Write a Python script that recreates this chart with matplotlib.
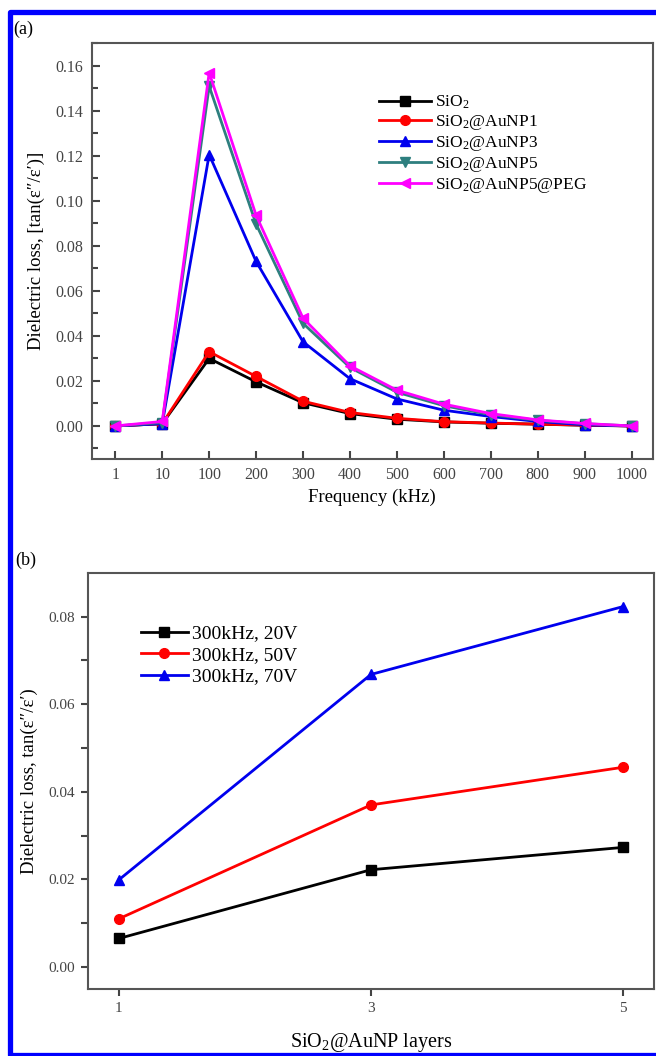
import matplotlib
matplotlib.use("Agg")
import matplotlib.pyplot as plt
from matplotlib.lines import Line2D
from matplotlib.ticker import MultipleLocator

plt.rcParams['font.family'] = ['Liberation Serif', 'DejaVu Serif']
plt.rcParams['mathtext.fontset'] = 'custom'
plt.rcParams['mathtext.rm'] = 'Liberation Serif'
plt.rcParams['mathtext.it'] = 'Liberation Serif:italic'

# panel (a) data
freq_labels = ["1", "10", "100", "200", "300", "400", "500", "600", "700", "800", "900", "1000"]
sio2 = [0, 0.001, 0.030, 0.0196, 0.0103, 0.0055, 0.0030, 0.0018, 0.0012, 0.0008, 0.0003, 0]
aunp1 = [0, 0.001, 0.033, 0.022, 0.011, 0.006, 0.0034, 0.0019, 0.0013, 0.0008, 0.0004, 0]
aunp3 = [0, 0.001, 0.1206, 0.0731, 0.0374, 0.021, 0.012, 0.007, 0.0042, 0.002, 0.0005, 0]
aunp5 = [0, 0.0015, 0.151, 0.0897, 0.0456, 0.026, 0.015, 0.009, 0.005, 0.0025, 0.001, 0]
aunp5_peg = [0, 0.002, 0.157, 0.0936, 0.0479, 0.0267, 0.0159, 0.0097, 0.0055, 0.0027, 0.0011, 0]

# panel (b) data
layers = [1, 3, 5]
v20 = [0.0065, 0.0222, 0.0273]
v50 = [0.011, 0.037, 0.0456]
v70 = [0.0199, 0.0668, 0.0823]

TICK_COLOR = "#444444"
SPINE_COLOR = "#555555"

fig = plt.figure(figsize=(6.56, 10.56), dpi=100)

# blue frame around the figure (open on the right)
frame = Line2D([1.02, 0.016, 0.016, 1.02], [0.9886, 0.9886, 0.0012, 0.0012],
               transform=fig.transFigure, color="#0000ff", linewidth=3.8)
fig.add_artist(frame)

# ---------- panel (a) ----------
ax1 = fig.add_axes([0.140, 0.5653, 0.855, 0.394])
x = list(range(len(freq_labels)))
series_a = [
    (sio2, "SiO$_2$", "black", "s"),
    (aunp1, "SiO$_2$@AuNP1", "#ff0000", "o"),
    (aunp3, "SiO$_2$@AuNP3", "#0000ee", "^"),
    (aunp5, "SiO$_2$@AuNP5", "#2e7f7f", "v"),
    (aunp5_peg, "SiO$_2$@AuNP5@PEG", "#ff00ff", "<"),
]
for vals, name, col, mk in series_a:
    ax1.plot(x, vals, color=col, marker=mk, markersize=7, linewidth=2, label=name)

ax1.set_xlim(-0.5, 11.45)
ax1.set_ylim(-0.0147, 0.1702)
ax1.set_xticks(x)
ax1.set_xticklabels(freq_labels)
ax1.yaxis.set_major_locator(MultipleLocator(0.02))
ax1.yaxis.set_minor_locator(MultipleLocator(0.01))
ax1.yaxis.set_major_formatter(lambda v, p: f"{v:.2f}")
ax1.tick_params(axis="both", which="both", direction="in", colors=TICK_COLOR,
                labelsize=11.5, length=6, width=1.5, pad=6)
ax1.tick_params(axis="y", which="minor", length=4)
ax1.set_xlabel("Frequency (kHz)", fontsize=13.5, labelpad=4)
ax1.set_ylabel("Dielectric loss, [tan(\u03b5\u2033/\u03b5\u2032)]", fontsize=13.5, labelpad=8)
for s in ax1.spines.values():
    s.set_color(SPINE_COLOR)
    s.set_linewidth(1.5)
ax1.legend(loc="upper left", bbox_to_anchor=(0.50, 0.895), frameon=False,
           fontsize=12.5, handlelength=3.0, handletextpad=0.2, labelspacing=0.12,
           borderaxespad=0)

fig.text(0.020, 0.972, "(a)", fontsize=13, ha="left", va="center")

# ---------- panel (b) ----------
ax2 = fig.add_axes([0.134, 0.0632, 0.863, 0.3939])
series_b = [
    (v20, "300kHz, 20V", "black", "s"),
    (v50, "300kHz, 50V", "#ff0000", "o"),
    (v70, "300kHz, 70V", "#0000ee", "^"),
]
for vals, name, col, mk in series_b:
    ax2.plot(layers, vals, color=col, marker=mk, markersize=7, linewidth=2, label=name)

ax2.set_xlim(0.754, 5.246)
ax2.set_ylim(-0.0051, 0.0899)
ax2.set_xticks(layers)
ax2.yaxis.set_major_locator(MultipleLocator(0.02))
ax2.yaxis.set_minor_locator(MultipleLocator(0.01))
ax2.yaxis.set_major_formatter(lambda v, p: f"{v:.2f}")
ax2.tick_params(axis="both", which="both", direction="out", colors=TICK_COLOR,
                labelsize=11, length=5, width=1.5, pad=4)
ax2.tick_params(axis="y", which="minor", length=5)
ax2.set_xlabel("SiO$_2$@AuNP layers", fontsize=14.5, labelpad=12)
ax2.set_ylabel("Dielectric loss, tan(\u03b5\u2033/\u03b5\u2032)", fontsize=13.5, labelpad=8)
for s in ax2.spines.values():
    s.set_color(SPINE_COLOR)
    s.set_linewidth(1.5)
ax2.legend(loc="upper left", bbox_to_anchor=(0.08, 0.895), frameon=False,
           fontsize=14, handlelength=2.4, handletextpad=0.2, labelspacing=0.2,
           borderaxespad=0)

fig.text(0.023, 0.4697, "(b)", fontsize=13, ha="left", va="center")

fig.savefig("out.png", dpi=100)
